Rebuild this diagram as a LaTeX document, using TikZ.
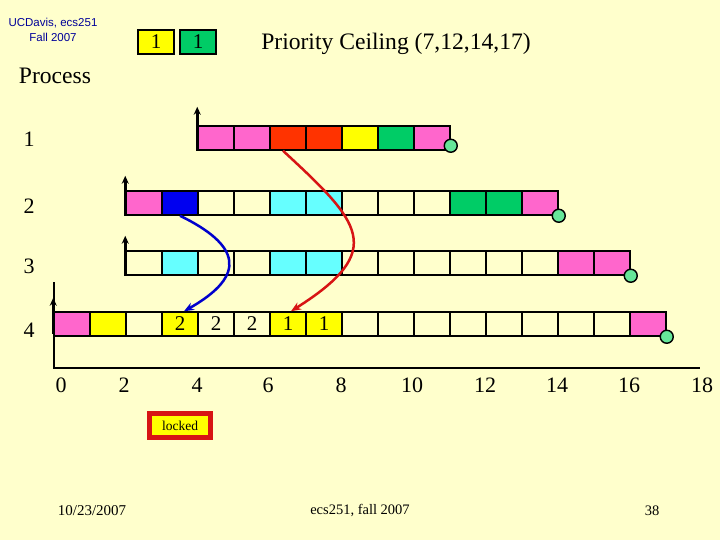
\documentclass[tikz,border=0pt]{standalone}
\usepackage{fontspec}
\setmainfont{Liberation Serif}
\newfontfamily\slidesans{Liberation Sans}
\usetikzlibrary{arrows.meta,positioning,calc}
\definecolor{slidebg}{RGB}{255,255,204}
\definecolor{pinkjob}{RGB}{255,102,204}
\definecolor{redjob}{RGB}{255,51,0}
\definecolor{yellowjob}{RGB}{255,255,0}
\definecolor{greenjob}{RGB}{0,204,102}
\definecolor{bluejob}{RGB}{0,0,240}
\definecolor{cyanjob}{RGB}{102,255,255}
\definecolor{donegreen}{RGB}{102,230,153}
\definecolor{headerblue}{RGB}{0,0,153}
\definecolor{pipred}{RGB}{215,20,20}
\definecolor{pipblue}{RGB}{0,0,204}
\newcommand{\sz}[1]{\fontsize{#1}{#1}\selectfont}

\begin{document}
\begin{tikzpicture}[x=1pt,y=-1pt,>=Stealth,
  slot/.style={draw,line width=1.5pt,minimum width=36pt,minimum height=24pt,inner sep=0pt,font=\sz{21}},
  relmark/.style={-{Stealth[length=8pt,width=7pt]},line width=3pt},
  donemark/.style={circle,draw,line width=1.4pt,fill=donegreen,minimum size=13pt,inner sep=0pt},
  pipflow/.style={-{Stealth[length=10pt,width=8pt]},line width=2.5pt}]
  \fill[slidebg] (0,0) rectangle (720,540);
  \useasboundingbox (0,0) rectangle (720,540);
  % header
  \node[font=\slidesans\fontsize{11.5}{15}\selectfont,text=headerblue,align=center] (hdr) at (53,30) {UCDavis, ecs251\\Fall 2007};
  \node[slot,fill=yellowjob] (ceilA) at (156,42) {1};
  \node[slot,fill=greenjob] (ceilB) at (198,42) {1};
  \node[font=\sz{23.6}] (title) at (396,44) {Priority Ceiling (7,12,14,17)};
  \node[font=\sz{23.6}] (proc) at (55,76) {Process};
  % process rows
  \node[font=\sz{22}] (lab1) at (29,139) {1};
  \node[font=\sz{22}] (lab2) at (29,206) {2};
  \node[font=\sz{22}] (lab3) at (29,266) {3};
  \node[font=\sz{22}] (lab4) at (29,330) {4};
  \draw[line width=1.2pt] (54,282) -- (54,368) -- (700,368);
  \foreach \c [count=\i from 0] in {pinkjob,pinkjob,redjob,redjob,yellowjob,greenjob,pinkjob}
    \node[slot,fill=\c] (p1c\i) at ({216+36*\i},138) {};
  \foreach \c [count=\i from 0] in {pinkjob,bluejob,slidebg,slidebg,cyanjob,cyanjob,slidebg,slidebg,slidebg,greenjob,greenjob,pinkjob}
    \node[slot,fill=\c] (p2c\i) at ({144+36*\i},203) {};
  \foreach \c [count=\i from 0] in {slidebg,cyanjob,slidebg,slidebg,cyanjob,cyanjob,slidebg,slidebg,slidebg,slidebg,slidebg,slidebg,pinkjob,pinkjob}
    \node[slot,fill=\c] (p3c\i) at ({144+36*\i},263) {};
  \foreach \c/\n [count=\i from 0] in {pinkjob/,yellowjob/,slidebg/,yellowjob/2,slidebg/2,slidebg/2,yellowjob/1,yellowjob/1,slidebg/,slidebg/,slidebg/,slidebg/,slidebg/,slidebg/,slidebg/,slidebg/,pinkjob/}
    \node[slot,fill=\c] (p4c\i) at ({72+36*\i},324) {\n};
  % releases and completions
  \draw[relmark] (p1c0.south west) -- ++(0,-44);
  \draw[relmark] (p2c0.south west) -- ++(0,-40);
  \draw[relmark] (p3c0.south west) -- ++(0,-40);
  \draw[relmark] ([yshift=3pt]p4c0.south west) -- ++(0,-36);
  \node[donemark] (f1) at ([yshift=5pt]p1c6.south east) {};
  \node[donemark] (f2) at (p2c11.south east) {};
  \node[donemark] (f3) at (p3c13.south east) {};
  \node[donemark] (f4) at (p4c16.south east) {};
  % inherited priorities
  \draw[pipflow,pipblue] (p2c1.south) .. controls (240,245) and (248,275) .. ([xshift=4pt]p4c3.north);
  \draw[pipflow,pipred] ([xshift=-5pt]p1c2.south) .. controls (360,222) and (388,250) .. ([xshift=3pt]p4c6.north);
  % time axis
  \foreach \t/\x in {0/61,2/124,4/197,6/268,8/341,10/412,12/485,14/557,16/629,18/702}
    \node[font=\sz{22}] (tick\t) at (\x,385) {\t};
  \node[draw=pipred,line width=5pt,fill=yellowjob,font=\sz{13.5},minimum width=61pt,minimum height=24pt,inner sep=0pt] (lock) at (180,425.5) {locked};
  % footer
  \node[font=\sz{15}] (date) at (92,511) {10/23/2007};
  \node[font=\sz{14.5}] (course) at (360,511) {ecs251, fall 2007};
  \node[font=\sz{14.5}] (page) at (652,511) {38};
\end{tikzpicture}
\end{document}
